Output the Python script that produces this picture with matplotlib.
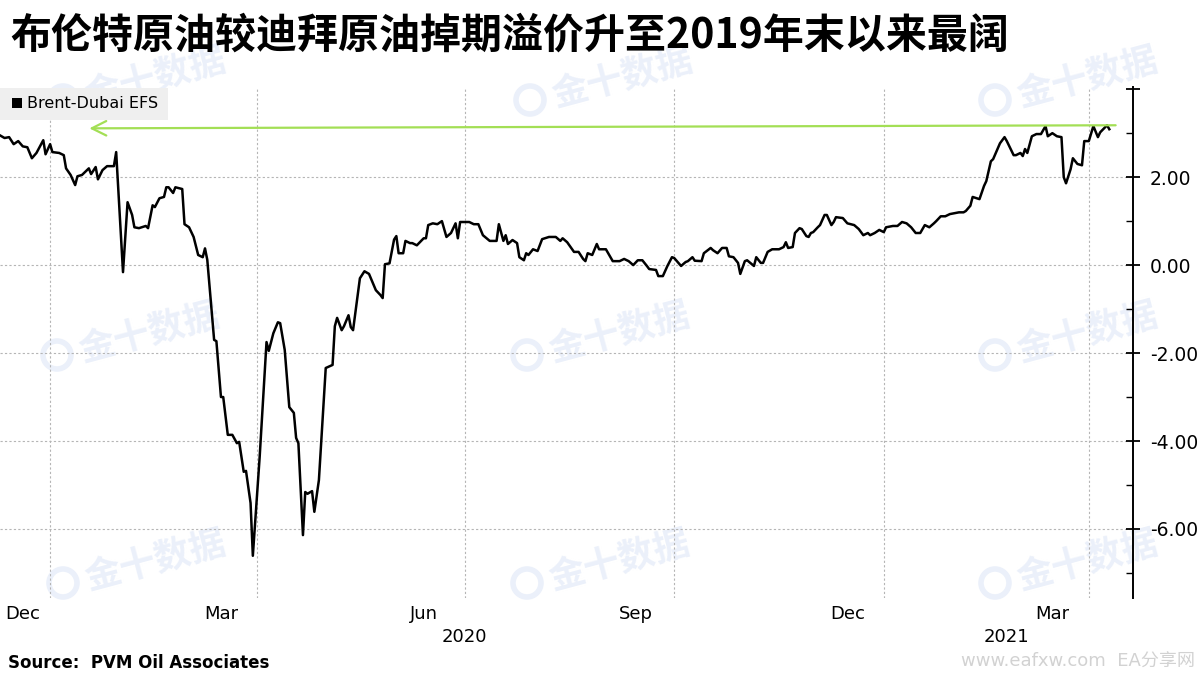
import matplotlib
matplotlib.use('Agg')
import matplotlib.pyplot as plt
import matplotlib.ticker as mticker
import numpy as np
import pandas as pd
from matplotlib.patches import Rectangle, Circle

# ---------------------------------------------------------------
# Data (Brent-Dubai EFS, USD/bbl)
# day offsets counted from 2019-12-10
# ---------------------------------------------------------------
base_date = '2019-12-10'

day_offset = [
    0, 2, 4, 6, 8, 10, 12, 14, 16, 19, 20, 22, 23, 26, 28, 29, 31, 33, 34, 36,
    39, 40, 42, 43, 45, 47, 50, 51, 54, 56, 58, 59, 61, 64, 65, 67, 68, 70, 72, 73,
    74, 76, 77, 80, 81, 83, 85, 87, 89, 90, 91, 94, 95, 97, 98, 100, 102, 104, 105, 107,
    108, 110, 111, 114, 117, 118, 120, 122, 123, 125, 127, 129, 130, 131, 133, 134, 135, 137, 138, 140,
    143, 146, 147, 148, 150, 151, 153, 154, 155, 158, 160, 162, 165, 167, 168, 169, 171, 173, 174, 175,
    177, 178, 180, 181, 183, 186, 187, 188, 190, 192, 194, 195, 196, 198, 200, 201, 202, 206, 208, 210,
    212, 215, 218, 219, 221, 222, 223, 225, 227, 228, 230, 231, 232, 234, 236, 238, 241, 244, 246, 247,
    249, 252, 254, 256, 257, 258, 260, 262, 263, 266, 269, 272, 274, 276, 278, 280, 282, 284, 285, 288,
    289, 291, 293, 295, 296, 299, 301, 302, 304, 305, 308, 309, 312, 313, 315, 317, 319, 320, 322, 324,
    325, 327, 328, 331, 332, 334, 335, 337, 339, 342, 344, 345, 346, 348, 349, 351, 352, 354, 355, 356,
    357, 359, 360, 362, 363, 365, 366, 367, 370, 372, 375, 377, 379, 381, 382, 384, 386, 388, 389, 392,
    394, 396, 398, 400, 402, 404, 406, 408, 410, 411, 413, 415, 417, 419, 421, 423, 424, 426, 427, 430,
    432, 433, 435, 436, 439, 441, 442, 445, 446, 448, 449, 450, 451, 453, 455, 457, 459, 460, 462, 464,
    466, 467, 468, 470, 471, 473, 475, 476, 478, 480, 482, 483, 486, 487,
]

efs = [
    2.95, 2.89, 2.91, 2.75, 2.82, 2.70, 2.68, 2.43, 2.55, 2.84, 2.52, 2.75, 2.57, 2.55, 2.50, 2.20, 2.05, 1.82, 2.02, 2.05,
    2.20, 2.07, 2.23, 1.95, 2.16, 2.25, 2.25, 2.57, -0.16, 1.43, 1.14, 0.86, 0.84, 0.89, 0.84, 1.36, 1.32, 1.52, 1.55, 1.77,
    1.77, 1.64, 1.77, 1.73, 0.93, 0.86, 0.64, 0.23, 0.18, 0.38, 0.12, -1.70, -1.73, -3.00, -3.00, -3.86, -3.86, -4.05, -4.02, -4.70,
    -4.68, -5.41, -6.61, -4.36, -1.75, -1.95, -1.55, -1.30, -1.32, -1.93, -3.23, -3.36, -3.93, -4.05, -6.14, -5.16, -5.20, -5.14, -5.61, -4.89,
    -2.34, -2.27, -1.39, -1.20, -1.48, -1.39, -1.14, -1.41, -1.48, -0.30, -0.14, -0.20, -0.57, -0.68, -0.75, 0.02, 0.04, 0.58, 0.66, 0.27,
    0.27, 0.55, 0.50, 0.50, 0.45, 0.61, 0.61, 0.91, 0.95, 0.93, 1.00, 0.82, 0.64, 0.73, 0.95, 0.61, 0.98, 0.98, 0.93, 0.93,
    0.68, 0.55, 0.55, 0.93, 0.55, 0.68, 0.48, 0.57, 0.50, 0.18, 0.11, 0.27, 0.23, 0.36, 0.32, 0.59, 0.64, 0.64, 0.55, 0.61,
    0.52, 0.30, 0.30, 0.14, 0.09, 0.27, 0.23, 0.48, 0.36, 0.36, 0.09, 0.09, 0.14, 0.09, 0.00, 0.11, 0.11, -0.02, -0.09, -0.11,
    -0.25, -0.25, -0.02, 0.18, 0.16, -0.02, 0.07, 0.09, 0.18, 0.10, 0.09, 0.27, 0.39, 0.34, 0.27, 0.39, 0.39, 0.20, 0.18, 0.05,
    -0.20, 0.09, 0.11, -0.02, 0.18, 0.05, 0.05, 0.30, 0.36, 0.36, 0.41, 0.52, 0.39, 0.41, 0.73, 0.84, 0.82, 0.66, 0.64, 0.73,
    0.75, 0.86, 0.91, 1.14, 1.14, 0.91, 0.98, 1.09, 1.07, 0.95, 0.91, 0.82, 0.68, 0.73, 0.68, 0.73, 0.80, 0.75, 0.86, 0.89,
    0.89, 0.98, 0.95, 0.86, 0.73, 0.73, 0.91, 0.86, 0.95, 1.00, 1.11, 1.11, 1.16, 1.18, 1.20, 1.20, 1.23, 1.35, 1.55, 1.50,
    1.80, 1.91, 2.36, 2.41, 2.77, 2.91, 2.82, 2.50, 2.50, 2.55, 2.48, 2.64, 2.55, 2.93, 2.98, 2.98, 3.16, 2.93, 3.00, 2.93,
    2.91, 2.00, 1.86, 2.18, 2.43, 2.30, 2.27, 2.82, 2.82, 3.16, 2.91, 3.02, 3.18, 3.09,
]

# axis labels
month_labels = ['Dec', 'Mar', 'Jun', 'Sep', 'Dec', 'Mar']
month_label_dates = ['2019-12-20', '2020-03-16', '2020-06-13', '2020-09-14', '2020-12-16', '2021-03-16']
quarter_grid_dates = ['2020-01-01', '2020-04-01', '2020-07-01', '2020-10-01', '2021-01-01', '2021-04-01']
year_labels = ['2020', '2021']
year_label_dates = ['2020-07-01', '2021-02-24']
y_major = [-6, -4, -2, 0, 2, 4]
y_minor = [-7, -5, -3, -1, 1, 3]

# green reference arrow (level of the latest high)
arrow_from = ('2021-04-14', 3.18)
arrow_to = ('2020-01-17', 3.11)

title = '布伦特原油较迪拜原油掉期溢价升至2019年末以来最阔'
source = 'Source:  PVM Oil Associates'
series_name = 'Brent-Dubai EFS'


def main():
    W, H = 1200, 675
    fig = plt.figure(figsize=(12, 6.75), dpi=100)
    fig.patch.set_facecolor('white')

    # watermarks (faint, under everything)
    wm_color = '#ebf0fa'
    for lx, ly in [(63, 100), (530, 100), (995, 100),
                   (57, 355), (527, 355), (995, 355),
                   (63, 583), (527, 583), (995, 583)]:
        fig.add_artist(Circle((lx / 100, (H - ly) / 100), 0.14, transform=fig.dpi_scale_trans,
                              fill=False, lw=4, color=wm_color, zorder=-2))
        fig.text((lx + 92) / W, 1 - (ly - 22) / H, '金十数据', family=['Noto Sans CJK SC'],
                 weight='bold', fontsize=26, color=wm_color, rotation=15,
                 ha='center', va='center', zorder=-2)

    ax = fig.add_axes([0, 1 - 598 / H, 1133 / W, 511 / H])
    ax.patch.set_alpha(0)

    base = pd.Timestamp(base_date)
    dates = base + pd.to_timedelta(day_offset, unit='D')
    ax.plot(dates, efs, color='black', linewidth=1.8, zorder=3)

    ax.set_xlim(base, base + pd.Timedelta(days=497.4))
    ax.set_ylim(-7.57, 4.05)

    # x axis: labels at mid month, grid at quarter boundaries
    ax.set_xticks(pd.to_datetime(month_label_dates))
    ax.set_xticklabels(month_labels)
    ax.set_xticks(pd.to_datetime(quarter_grid_dates), minor=True)
    ax.tick_params(axis='x', which='both', length=0, pad=5, labelsize=13)
    ax.grid(axis='x', which='minor', color='#b5b5b5', linestyle=(0, (2, 2)), linewidth=0.8)
    for lab, d in zip(year_labels, year_label_dates):
        ax.text(pd.Timestamp(d), -0.077, lab, transform=ax.get_xaxis_transform(),
                ha='center', va='center', fontsize=13)

    # y axis on the right
    ax.yaxis.tick_right()
    ax.set_yticks(y_major)
    ax.set_yticks(y_minor, minor=True)
    ax.yaxis.set_major_formatter(mticker.FuncFormatter(lambda v, p: '' if v > 3 else f'{v:.2f}'))
    ax.tick_params(axis='y', which='major', direction='inout', length=10, width=1.3, pad=7, labelsize=13.5)
    ax.tick_params(axis='y', which='minor', direction='in', length=5, width=1.0)
    for v in y_major[:-1]:
        ax.axhline(v, color='#b5b5b5', linestyle=(0, (2, 2)), linewidth=0.8, zorder=1)

    for s in ['left', 'top', 'bottom']:
        ax.spines[s].set_visible(False)
    ax.spines['right'].set_linewidth(1.4)

    # green arrow
    ax.annotate('', xy=(pd.Timestamp(arrow_to[0]), arrow_to[1]),
                xytext=(pd.Timestamp(arrow_from[0]), arrow_from[1]),
                arrowprops=dict(arrowstyle='->', color='#a3df55', lw=1.6,
                                mutation_scale=26), zorder=4, annotation_clip=False)

    # legend box
    fig.add_artist(Rectangle((0, 1 - 120 / H), 168 / W, 32 / H, transform=fig.transFigure,
                             facecolor='#efefef', edgecolor='none', zorder=5))
    fig.add_artist(Rectangle((12 / W, 1 - 108 / H), 10 / W, 10 / H, transform=fig.transFigure,
                             facecolor='black', edgecolor='none', zorder=6))
    fig.text(27 / W, 1 - 103 / H, series_name, fontsize=11.5, ha='left', va='center', zorder=6)

    # title, source, site mark
    fig.text(10 / W, 1 - 36 / H, title, family=['Noto Sans CJK SC'], weight='bold',
             fontsize=29.5, ha='left', va='center')
    fig.text(8 / W, 1 - 663 / H, source, weight='bold', fontsize=12, ha='left', va='center')
    fig.text(1195 / W, 1 - 662 / H, 'www.eafxw.com  EA分享网', family=['DejaVu Sans', 'Noto Sans CJK SC'],
             fontsize=13, color='#d2d2d2', ha='right', va='center')

    fig.savefig('out.png', dpi=100, facecolor='white')


if __name__ == '__main__':
    main()
